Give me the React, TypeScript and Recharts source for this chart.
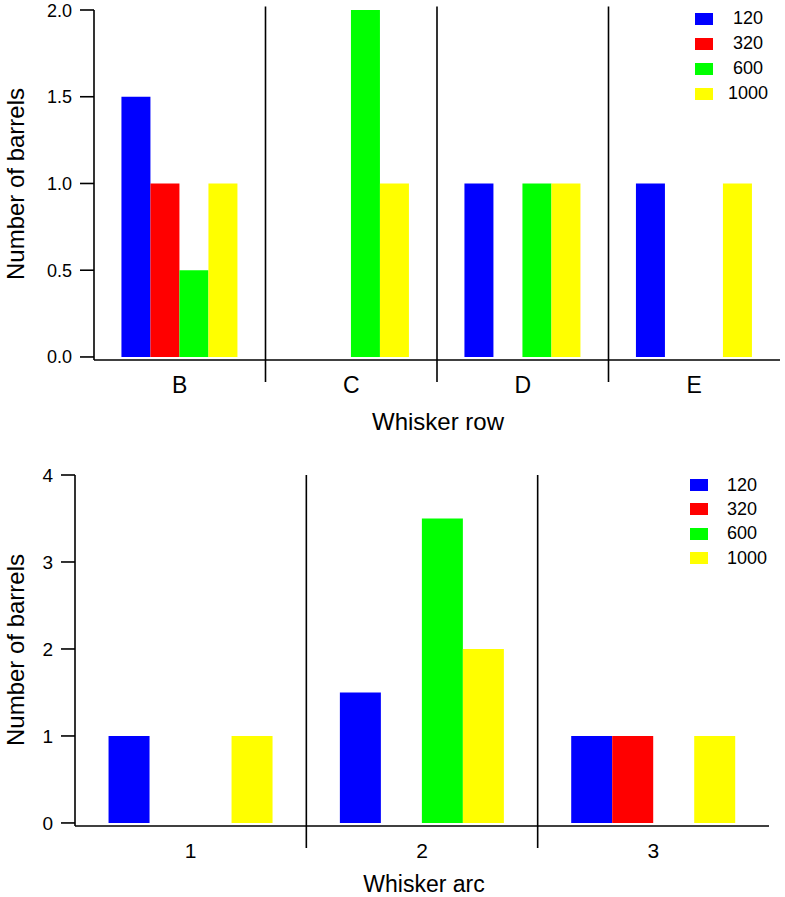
import { Bar, BarChart, Legend, ReferenceLine, XAxis, YAxis } from "recharts";

// Whisker row chart (top)
const rowCategories = ["B", "C", "D", "E"];
const row120 = [1.5, 0, 1, 1];
const row320 = [1, 0, 0, 0];
const row600 = [0.5, 2, 1, 0];
const row1000 = [1, 1, 1, 1];
const rowTicks = [0, 0.5, 1, 1.5, 2];

// Whisker arc chart (bottom)
const arcCategories = ["1", "2", "3"];
const arc120 = [1, 1.5, 1];
const arc320 = [0, 0, 1];
const arc600 = [0, 3.5, 0];
const arc1000 = [1, 2, 1];
const arcTicks = [0, 1, 2, 3, 4];

const seriesNames = ["120", "320", "600", "1000"];
const seriesColors = ["#0000ff", "#ff0000", "#00ff00", "#ffff00"];

const FONT = "'Liberation Sans', Arial, sans-serif";
const INK = "#000";

function buildRows(cats: string[], cols: number[][]) {
  return cats.map((c, i) => {
    const row: Record<string, string | number> = { cat: c };
    seriesNames.forEach((n, k) => {
      row[n] = cols[k][i];
    });
    return row;
  });
}

const rowData = buildRows(rowCategories, [row120, row320, row600, row1000]);
const arcData = buildRows(arcCategories, [arc120, arc320, arc600, arc1000]);

type SwatchProps = { rowHeight: number; gap: number; align: "center" | "left" };

// legend order follows the series order, not recharts' payload order
function SwatchLegend({ rowHeight, gap, align }: SwatchProps) {
  return (
    <div style={{ fontFamily: FONT }}>
      {seriesNames.map((n, i) => (
        <div key={n} style={{ display: "flex", alignItems: "center", height: rowHeight }}>
          <span style={{ display: "inline-block", width: 18, height: 12, background: seriesColors[i] }} />
          <span style={{ display: "inline-block", width: 42, marginLeft: gap, textAlign: align, fontSize: 18, color: INK }}>
            {n}
          </span>
        </div>
      ))}
    </div>
  );
}

export default function App() {
  const axisStroke = { stroke: INK, strokeWidth: 1.6 };
  return (
    <div style={{ position: "absolute", left: 0, top: 0, width: 785, height: 897, background: "#fff", fontFamily: FONT }}>
      <BarChart
        width={785}
        height={440}
        data={rowData}
        margin={{ top: 10, right: 5, left: 0, bottom: 0 }}
        barCategoryGap="16%"
        barGap={0}
      >
        <XAxis
          dataKey="cat"
          tickLine={false}
          tickSize={0}
          tickMargin={17}
          axisLine={axisStroke}
          tick={{ fill: INK, fontSize: 23 }}
          height={80}
          label={{
            content: () => (
              <text x={438} y={430} textAnchor="middle" fontSize={24} fill={INK}>
                Whisker row
              </text>
            ),
          }}
        />
        <YAxis
          type="number"
          domain={[-0.0175, 2]}
          allowDataOverflow
          ticks={rowTicks}
          tickFormatter={(v: number) => v.toFixed(1)}
          tickSize={14}
          tickMargin={8}
          axisLine={axisStroke}
          tickLine={axisStroke}
          tick={{ fill: INK, fontSize: 18 }}
          width={94}
          label={{
            content: () => (
              <text x={15} y={184} transform="rotate(-90 15 184)" textAnchor="middle" dominantBaseline="central" fontSize={24} fill={INK}>
                Number of barrels
              </text>
            ),
          }}
        />
        {/* group separators sit at the start of every band but the first */}
        {rowCategories.slice(1).map((c) => (
          <ReferenceLine
            key={c}
            position="start"
            segment={[
              { x: c, y: 2.02 },
              { x: c, y: -0.144 },
            ]}
            ifOverflow="visible"
            stroke={INK}
            strokeWidth={1.6}
          />
        ))}
        <Legend
          layout="vertical"
          align="center"
          verticalAlign="middle"
          width={90}
          wrapperStyle={{ left: 695, top: 6 }}
          content={() => <SwatchLegend rowHeight={25} gap={14} align="center" />}
        />
        {seriesNames.map((n, i) => (
          <Bar key={n} dataKey={n} fill={seriesColors[i]} isAnimationActive={false} />
        ))}
      </BarChart>

      <BarChart
        width={785}
        height={457}
        data={arcData}
        margin={{ top: 35, right: 16, left: 0, bottom: 0 }}
        barCategoryGap="14.5%"
        barGap={0}
      >
        <XAxis
          dataKey="cat"
          tickLine={false}
          tickSize={0}
          tickMargin={17}
          axisLine={axisStroke}
          tick={{ fill: INK, fontSize: 21 }}
          height={71}
          label={{
            content: () => (
              <text x={424} y={452} textAnchor="middle" fontSize={23} fill={INK}>
                Whisker arc
              </text>
            ),
          }}
        />
        <YAxis
          type="number"
          domain={[-0.035, 4]}
          allowDataOverflow
          ticks={arcTicks}
          tickSize={14}
          tickMargin={8}
          axisLine={axisStroke}
          tickLine={axisStroke}
          tick={{ fill: INK, fontSize: 19 }}
          width={75}
          label={{
            content: () => (
              <text x={15} y={210} transform="rotate(-90 15 210)" textAnchor="middle" dominantBaseline="central" fontSize={24} fill={INK}>
                Number of barrels
              </text>
            ),
          }}
        />
        {arcCategories.slice(1).map((c) => (
          <ReferenceLine
            key={c}
            position="start"
            segment={[
              { x: c, y: 4 },
              { x: c, y: -0.288 },
            ]}
            ifOverflow="visible"
            stroke={INK}
            strokeWidth={1.6}
          />
        ))}
        <Legend
          layout="vertical"
          align="center"
          verticalAlign="middle"
          width={90}
          wrapperStyle={{ left: 690, top: 33 }}
          content={() => <SwatchLegend rowHeight={24.3} gap={19} align="left" />}
        />
        {seriesNames.map((n, i) => (
          <Bar key={n} dataKey={n} fill={seriesColors[i]} isAnimationActive={false} />
        ))}
      </BarChart>
    </div>
  );
}
